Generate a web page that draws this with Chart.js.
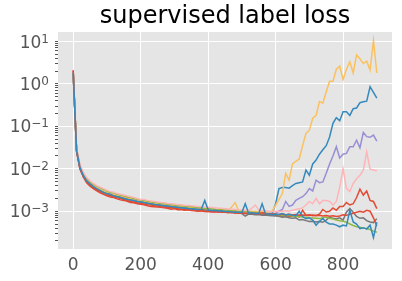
<!DOCTYPE html>
<html>
<head>
<meta charset="utf-8">
<script src="https://cdn.jsdelivr.net/npm/chart.js@4"></script>
<style>
  body { margin: 0; background: #fff; }
  #wrap { width: 402px; height: 281px; }
</style>
</head>
<body>
<div id="wrap"><canvas id="loss-chart"></canvas></div>
<script>
// training steps
var steps = [0, 10, 20, 30, 40, 50, 60, 70, 80, 90,
  100, 110, 120, 130, 140, 150, 160, 170, 180, 190,
  200, 210, 220, 230, 240, 250, 260, 270, 280, 290,
  300, 310, 320, 330, 340, 350, 360, 370, 380, 390,
  400, 410, 420, 430, 440, 450, 460, 470, 480, 490,
  500, 510, 520, 530, 540, 550, 560, 570, 580, 590,
  600, 610, 620, 630, 640, 650, 660, 670, 680, 690,
  700, 710, 720, 730, 740, 750, 760, 770, 780, 790,
  800, 810, 820, 830, 840, 850, 860, 870, 880, 890,
  900];

var redA = [2.1, 0.026, 0.0098, 0.0064, 0.0047, 0.0039, 0.0034, 0.0030, 0.0027, 0.0025,
  0.0023, 0.00215, 0.0021, 0.00195, 0.00185, 0.0018, 0.00172, 0.0016, 0.00158, 0.0015,
  0.00145, 0.00142, 0.00135, 0.0013, 0.00128, 0.00125, 0.00124, 0.0012, 0.00118, 0.00112,
  0.00115, 0.00108, 0.0011, 0.00105, 0.00108, 0.00104, 0.00102, 0.001, 0.00103, 0.00098,
  0.001, 0.00097, 0.00098, 0.00095, 0.00097, 0.00094, 0.00092, 0.00095, 0.0009, 0.00092,
  0.00089, 0.00088, 0.0009, 0.00086, 0.00088, 0.00085, 0.00087, 0.00083, 0.00085, 0.00082,
  0.0008, 0.00082, 0.00076, 0.0008, 0.00074, 0.00078, 0.0008, 0.00073, 0.00106, 0.0008,
  0.00082, 0.00078, 0.0008, 0.00085, 0.0011, 0.00096, 0.001, 0.0012, 0.00105, 0.0013,
  0.0013, 0.0016, 0.0014, 0.0015, 0.0021, 0.0033, 0.0024, 0.003, 0.0018, 0.0017,
  0.00115];

var blueA = [1.8, 0.027, 0.0105, 0.0068, 0.0051, 0.0043, 0.0037, 0.0033, 0.003, 0.0028,
  0.0026, 0.0024, 0.0023, 0.0022, 0.0021, 0.002, 0.0019, 0.0018, 0.00178, 0.0017,
  0.00165, 0.00158, 0.00152, 0.00148, 0.00142, 0.0014, 0.00136, 0.00133, 0.0013, 0.00128,
  0.00124, 0.00122, 0.0012, 0.00118, 0.00116, 0.00113, 0.00112, 0.0011, 0.00108, 0.00106,
  0.00104, 0.00102, 0.001, 0.00102, 0.00099, 0.00098, 0.001, 0.00096, 0.00097, 0.00094,
  0.00095, 0.00092, 0.00093, 0.0009, 0.00092, 0.00089, 0.0009, 0.00088, 0.00089, 0.0009,
  0.0015, 0.0034, 0.0036, 0.0036, 0.0035, 0.004, 0.0045, 0.0047, 0.0049, 0.0093,
  0.007, 0.013, 0.016, 0.022, 0.028, 0.035, 0.056, 0.117, 0.16, 0.135,
  0.22, 0.22, 0.18, 0.26, 0.27, 0.36, 0.38, 0.39, 0.85, 0.63,
  0.46];

var purpleA = [1.9, 0.028, 0.011, 0.0071, 0.0053, 0.0044, 0.0039, 0.0035, 0.0031, 0.0029,
  0.0027, 0.0025, 0.0024, 0.0023, 0.0022, 0.0021, 0.00195, 0.0019, 0.0018, 0.00178,
  0.0017, 0.00162, 0.0016, 0.00152, 0.0015, 0.00145, 0.00145, 0.00138, 0.00136, 0.00132,
  0.0013, 0.00126, 0.00125, 0.00122, 0.00121, 0.00118, 0.00117, 0.00114, 0.00113, 0.0011,
  0.00109, 0.00106, 0.00107, 0.00104, 0.00104, 0.00102, 0.001, 0.00101, 0.00098, 0.00097,
  0.00096, 0.00094, 0.00095, 0.00092, 0.00093, 0.0009, 0.00091, 0.00089, 0.00088, 0.00089,
  0.0009, 0.001, 0.0011, 0.0017, 0.0013, 0.0014, 0.0018, 0.002, 0.0022, 0.0026,
  0.0034, 0.003, 0.0054, 0.0047, 0.0049, 0.0078, 0.013, 0.02, 0.033, 0.018,
  0.022, 0.023, 0.033, 0.033, 0.047, 0.031, 0.072, 0.057, 0.055, 0.062,
  0.045];

var grayA = [1.9, 0.027, 0.011, 0.0072, 0.0054, 0.0045, 0.0039, 0.0035, 0.0032, 0.0029,
  0.0027, 0.0025, 0.0024, 0.0023, 0.0022, 0.0021, 0.002, 0.0019, 0.00182, 0.00175,
  0.0017, 0.00163, 0.00158, 0.00153, 0.00148, 0.00146, 0.0014, 0.00139, 0.00134, 0.00133,
  0.00128, 0.00127, 0.00122, 0.00123, 0.00119, 0.00118, 0.00114, 0.00115, 0.00111, 0.0011,
  0.00106, 0.00105, 0.00103, 0.00102, 0.001, 0.00099, 0.00097, 0.00096, 0.00094, 0.00093,
  0.00088, 0.00077, 0.00086, 0.00085, 0.00083, 0.00084, 0.0008, 0.00081, 0.00079, 0.00078,
  0.00077, 0.00076, 0.00072, 0.00074, 0.0007, 0.00068, 0.0007, 0.00062, 0.00064, 0.0006,
  0.00057, 0.00058, 0.00056, 0.00057, 0.00055, 0.00062, 0.00073, 0.00068, 0.00066, 0.0007,
  0.00062, 0.00096, 0.00115, 0.00095, 0.00075, 0.00068, 0.0007, 0.0006, 0.00056, 0.00054,
  0.00067];

var yellow = [1.9, 0.028, 0.0115, 0.0074, 0.0056, 0.0047, 0.0041, 0.0036, 0.0033, 0.003,
  0.0028, 0.0026, 0.0025, 0.0024, 0.0023, 0.0022, 0.0021, 0.002, 0.0019, 0.00185,
  0.0018, 0.00172, 0.00168, 0.0016, 0.00158, 0.00152, 0.0015, 0.00146, 0.00143, 0.0014,
  0.00136, 0.00133, 0.00132, 0.00128, 0.00127, 0.00124, 0.00123, 0.0012, 0.00119, 0.00116,
  0.00115, 0.00113, 0.00112, 0.0011, 0.00109, 0.00108, 0.00106, 0.00125, 0.0016, 0.00105,
  0.00102, 0.00101, 0.001, 0.00099, 0.00098, 0.00097, 0.00098, 0.00096, 0.00097, 0.001,
  0.0014, 0.0019, 0.0026, 0.0078, 0.0054, 0.013, 0.015, 0.017, 0.035, 0.068,
  0.081, 0.155, 0.18, 0.38, 0.35, 0.65, 1.15, 1.15, 2.2, 2.6,
  1.26, 2.2, 3.3, 1.8, 4.8, 3.9, 3.0, 3.4, 2.1, 10.5,
  1.8];

var green = [1.9, 0.029, 0.0118, 0.0077, 0.0058, 0.0049, 0.0043, 0.0039, 0.0036, 0.0033,
  0.003, 0.0028, 0.0027, 0.0025, 0.0024, 0.0023, 0.0022, 0.0021, 0.002, 0.0019,
  0.00185, 0.0018, 0.00172, 0.00168, 0.0016, 0.00158, 0.00153, 0.0015, 0.00146, 0.00144,
  0.0014, 0.00137, 0.00134, 0.00132, 0.00129, 0.00127, 0.00125, 0.00122, 0.0012, 0.00118,
  0.00116, 0.00114, 0.00112, 0.0011, 0.00108, 0.00107, 0.00105, 0.00103, 0.00102, 0.001,
  0.00099, 0.00097, 0.00096, 0.00094, 0.00093, 0.00091, 0.0009, 0.00089, 0.00087, 0.00086,
  0.00085, 0.00083, 0.00082, 0.0008, 0.00079, 0.00077, 0.00076, 0.00075, 0.00073, 0.00072,
  0.0007, 0.00069, 0.00068, 0.00067, 0.0007, 0.00073, 0.00068, 0.00066, 0.00062, 0.0006,
  0.00058, 0.00055, 0.0005, 0.00046, 0.00043, 0.00042, 0.0004, 0.00039, 0.00037, 0.00034,
  0.00032];

var pink = [1.9, 0.03, 0.0125, 0.0082, 0.0062, 0.0052, 0.0045, 0.004, 0.0037, 0.0034,
  0.0031, 0.0029, 0.0028, 0.0026, 0.0025, 0.0024, 0.0023, 0.0022, 0.0021, 0.002,
  0.0019, 0.00188, 0.0018, 0.00175, 0.0017, 0.00165, 0.0016, 0.00158, 0.00152, 0.0015,
  0.00148, 0.00143, 0.00142, 0.00138, 0.00137, 0.00134, 0.00132, 0.00129, 0.00128, 0.00126,
  0.00124, 0.00122, 0.0012, 0.00118, 0.00117, 0.00115, 0.00113, 0.00112, 0.0011, 0.00108,
  0.00107, 0.00105, 0.00104, 0.00118, 0.0014, 0.00108, 0.00104, 0.00102, 0.001, 0.00099,
  0.001, 0.00098, 0.001, 0.00103, 0.001, 0.00105, 0.0011, 0.00115, 0.0012, 0.0014,
  0.0017, 0.0015, 0.002, 0.0015, 0.0018, 0.0018, 0.0017, 0.0014, 0.0017, 0.0037,
  0.01, 0.0034, 0.0029, 0.0045, 0.0058, 0.007, 0.0093, 0.025, 0.0098, 0.0093,
  0.009];

var redB = [2.0, 0.026, 0.0102, 0.0066, 0.0049, 0.0041, 0.0035, 0.0032, 0.0029, 0.0026,
  0.0024, 0.0023, 0.0022, 0.0021, 0.002, 0.00188, 0.0018, 0.0017, 0.00165, 0.00158,
  0.00152, 0.00148, 0.00142, 0.0014, 0.00134, 0.00132, 0.00128, 0.00126, 0.00122, 0.0012,
  0.00117, 0.00115, 0.00112, 0.0011, 0.00109, 0.00106, 0.00105, 0.00103, 0.00102, 0.001,
  0.00099, 0.00097, 0.00096, 0.00098, 0.00095, 0.00094, 0.00096, 0.00092, 0.00094, 0.0009,
  0.00092, 0.00089, 0.00091, 0.00088, 0.0009, 0.00087, 0.00092, 0.00088, 0.00086, 0.00087,
  0.00085, 0.00084, 0.00086, 0.00083, 0.00085, 0.00082, 0.00084, 0.0008, 0.00082, 0.0008,
  0.00079, 0.00081, 0.00078, 0.0008, 0.00077, 0.00079, 0.00076, 0.00078, 0.00075, 0.00077,
  0.00082, 0.0008, 0.00085, 0.0009, 0.00095, 0.001, 0.00095, 0.00105, 0.001, 0.0007,
  0.00045];

var blueB = [1.8, 0.027, 0.0107, 0.007, 0.0052, 0.0044, 0.0038, 0.0034, 0.0031, 0.0028,
  0.0026, 0.0025, 0.0023, 0.0022, 0.0021, 0.002, 0.0019, 0.00185, 0.00178, 0.0017,
  0.00168, 0.0016, 0.00155, 0.0015, 0.00145, 0.00143, 0.00138, 0.00135, 0.00132, 0.0013,
  0.00125, 0.00124, 0.0012, 0.00119, 0.00116, 0.00115, 0.00112, 0.0011, 0.00112, 0.0018,
  0.00108, 0.00104, 0.00105, 0.00101, 0.00102, 0.00099, 0.00098, 0.00096, 0.00095, 0.00094,
  0.00093, 0.0015, 0.0009, 0.00092, 0.00088, 0.00089, 0.0015, 0.00087, 0.00086, 0.00084,
  0.00085, 0.00084, 0.00088, 0.00082, 0.00085, 0.0008, 0.00078, 0.001, 0.00075, 0.00067,
  0.0007, 0.00062, 0.00047, 0.00058, 0.00067, 0.00055, 0.0005, 0.0005, 0.00047, 0.00043,
  0.00047, 0.00045, 0.00105, 0.00056, 0.0005, 0.00039, 0.00041, 0.00038, 0.00047, 0.00024,
  0.00055];

// ticks
var xTicks = [0, 200, 400, 600, 800];
var yMajor = [0.001, 0.01, 0.1, 1, 10];
var yTickExp = ['\u22123', '\u22122', '\u22121', '0', '1'];

var yMin = 0.000129, yMax = 16.6;
var yAll = [];
[0.0001, 0.001, 0.01, 0.1, 1, 10].forEach(function (d) {
  for (var m = 1; m < 10; m++) {
    var v = m === 1 ? d : m * d;
    if (v >= yMin && v <= yMax) yAll.push(v);
  }
});

var series = [redA, blueA, purpleA, grayA, yellow, green, pink, redB, blueB];
var colors = ['#E24A33', '#348ABD', '#988ED5', '#777777', '#FBC15E', '#8EBA42', '#FFB5B8', '#E24A33', '#348ABD'];

var font = "'DejaVu Sans', sans-serif";

// grey panel behind the lines
var bgPlugin = {
  id: 'panelBg',
  beforeDraw: function (chart) {
    var a = chart.chartArea, ctx = chart.ctx;
    ctx.save();
    ctx.fillStyle = '#E5E5E5';
    ctx.fillRect(a.left, a.top, a.right - a.left, a.bottom - a.top);
    ctx.restore();
  }
};

// 10^n labels with a real superscript, placed by the y scale
var powerLabels = {
  id: 'powerLabels',
  afterDraw: function (chart) {
    var ctx = chart.ctx, y = chart.scales.y;
    var right = y.right - 9;
    ctx.save();
    ctx.fillStyle = '#555555';
    ctx.textBaseline = 'alphabetic';
    ctx.textAlign = 'right';
    yMajor.forEach(function (v, i) {
      var py = y.getPixelForValue(v);
      ctx.font = '12px ' + font;
      var w = ctx.measureText(yTickExp[i]).width;
      ctx.fillText(yTickExp[i], right, py + 1.2);
      ctx.font = '17px ' + font;
      ctx.fillText('10', right - w, py + 6.2);
    });
    ctx.restore();
  }
};

var lines = document.getElementById('loss-chart').getContext('2d');
var lossChart = new Chart(lines, {
  type: 'line',
  data: {
    datasets: series.map(function (vals, i) {
      return {
        data: vals.map(function (v, j) { return { x: steps[j], y: v }; }),
        borderColor: colors[i],
        borderWidth: 1.5,
        pointRadius: 0,
        tension: 0,
        fill: false,
        order: series.length - i
      };
    })
  },
  options: {
    responsive: true,
    maintainAspectRatio: false,
    animation: false,
    layout: { padding: { left: 0, right: 10, top: 0, bottom: 0 } },
    scales: {
      x: {
        type: 'linear',
        min: -45,
        max: 945,
        afterBuildTicks: function (scale) {
          scale.ticks = xTicks.map(function (v) { return { value: v }; });
        },
        afterFit: function (scale) { scale.height = 32; },
        border: { display: false },
        grid: { color: '#FFFFFF', lineWidth: 1, tickColor: 'rgba(0,0,0,0)', tickLength: 3 },
        ticks: { color: '#555555', font: { family: font, size: 17 }, padding: 3, maxRotation: 0, autoSkip: false }
      },
      y: {
        type: 'logarithmic',
        min: yMin,
        max: yMax,
        afterBuildTicks: function (scale) {
          scale.ticks = yAll.map(function (v) { return { value: v }; });
        },
        afterFit: function (scale) { scale.width = 58; },
        border: { display: false },
        grid: {
          color: function (c) {
            return c.tick && yMajor.indexOf(c.tick.value) >= 0 ? '#FFFFFF' : 'rgba(0,0,0,0)';
          },
          lineWidth: 1,
          tickColor: '#555555',
          tickLength: 3
        },
        ticks: {
          autoSkip: false,
          callback: function () { return ''; }
        }
      }
    },
    plugins: {
      legend: { display: false },
      tooltip: { enabled: false },
      title: {
        display: true,
        fullSize: false,
        text: 'supervised label loss',
        color: '#000000',
        font: { family: font, size: 24, weight: 'normal' },
        padding: { top: 2, bottom: 1.2 }
      }
    }
  },
  plugins: [bgPlugin, powerLabels]
});
</script>
</body>
</html>
